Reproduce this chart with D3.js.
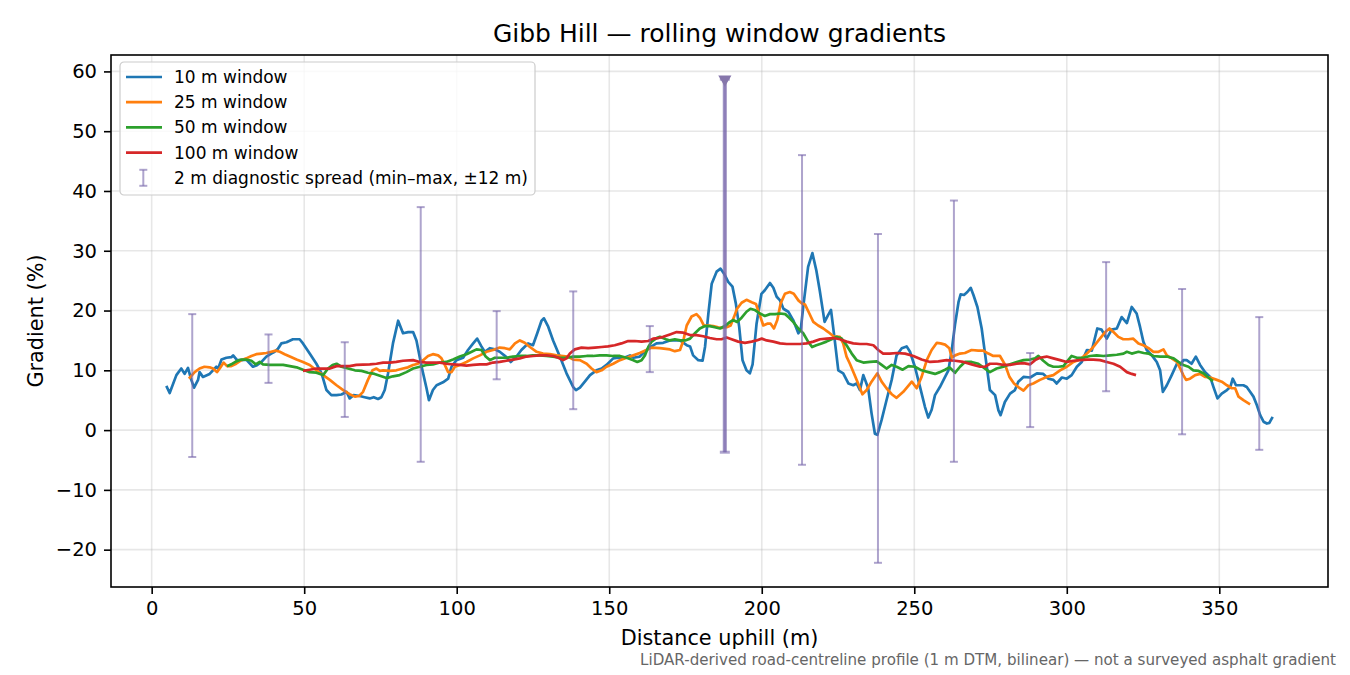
<!DOCTYPE html>
<html>

<head>
  <meta charset="utf-8">
  <script src="https://cdnjs.cloudflare.com/ajax/libs/d3/7.8.5/d3.min.js"></script>
  <style>
    body { margin: 0; background: #fff; }
    text { font-family: "DejaVu Sans", sans-serif; }
  </style>
</head>

<body>
  <script>
    // 10 m window
    var dist10 = [4.8, 5.9, 8.1, 9.7, 10.8, 11.9, 13.0, 13.9, 15.2, 15.7, 16.8, 19.0, 20.1, 21.2, 21.8, 22.9, 24.5, 26.1, 26.7, 28.0,
      29.5, 31.0, 33.2, 34.3, 36.0, 37.6, 39.2, 40.3, 41.4, 42.5, 44.2, 46.3, 48.5, 49.6, 51.8, 54.0, 55.7, 57.3, 58.9, 60.6,
      62.2, 63.9, 64.9, 66.2, 68.2, 69.8, 71.5, 72.8, 74.2, 75.3, 76.4, 77.5, 79.1, 80.8, 82.4, 84.1, 85.7, 86.8, 88.5, 90.1,
      90.9, 92.2, 93.4, 95.5, 97.2, 98.3, 99.9, 102.1, 103.7, 105.4, 106.7, 108.1, 109.2, 110.9, 112.5, 114.1, 116.1, 117.7, 119.6, 121.2,
      123.4, 125.0, 126.4, 127.8, 128.6, 130.0, 131.6, 133.8, 136.0, 138.2, 139.1, 140.4, 142.0, 143.7, 145.8, 147.5, 149.1, 151.3, 152.9, 154.5,
      156.8, 157.9, 160.0, 162.2, 163.9, 165.5, 167.7, 169.9, 173.2, 175.4, 176.5, 177.5, 179.2, 180.6, 181.4, 182.5, 183.6, 185.2, 186.5, 187.6,
      189.0, 190.4, 191.5, 192.6, 193.7, 195.0, 196.1, 197.0, 198.3, 199.9, 201.0, 202.7, 203.8, 204.9, 206.0, 207.1, 208.7, 210.3, 212.0, 212.8,
      213.6, 215.2, 216.6, 217.9, 219.0, 220.6, 221.7, 222.7, 223.8, 225.1, 226.7, 228.4, 230.0, 231.1, 232.2, 233.3, 234.9, 236.0, 237.1, 237.9,
      239.3, 240.9, 242.6, 244.2, 245.9, 247.5, 248.6, 250.2, 251.9, 253.5, 254.6, 255.7, 256.8, 258.4, 260.1, 261.2, 262.3, 263.4, 264.5, 265.2,
      266.3, 267.4, 268.5, 269.4, 270.7, 272.1, 273.2, 274.8, 276.5, 277.6, 278.3, 279.7, 281.4, 283.0, 284.1, 285.8, 288.0, 290.2, 292.3, 294.0,
      295.6, 296.7, 298.4, 300.0, 301.6, 303.3, 304.9, 306.6, 308.2, 310.0, 311.4, 313.1, 314.7, 316.4, 318.0, 319.7, 321.3, 322.9, 324.0, 325.1,
      326.2, 327.9, 329.5, 330.6, 331.5, 332.8, 334.4, 336.1, 337.2, 338.2, 339.3, 340.9, 342.3, 343.7, 345.3, 347.0, 348.1, 349.4, 350.8, 352.5,
      353.6, 354.4, 355.5, 356.8, 357.9, 359.0, 360.1, 361.2, 362.3, 363.4, 364.5, 365.6, 366.4, 367.5];
    var grad10 = [7.4, 6.2, 9.2, 10.3, 9.4, 10.4, 8.4, 7.1, 8.4, 9.7, 8.9, 9.4, 10.0, 10.6, 10.3, 11.8, 12.1, 12.2, 12.5, 11.7,
      11.7, 11.8, 10.6, 10.8, 11.4, 12.3, 12.8, 13.1, 13.6, 14.5, 14.7, 15.2, 15.2, 14.5, 12.8, 11.1, 9.5, 6.7, 5.85, 5.85,
      5.95, 6.4, 5.3, 5.85, 5.7, 5.5, 5.3, 5.5, 5.2, 5.5, 6.7, 9.5, 14.5, 18.3, 16.2, 16.4, 16.4, 15.0, 10.6, 7.0,
      5.0, 6.7, 7.5, 8.0, 8.6, 10.6, 11.7, 12.1, 13.4, 14.5, 15.3, 14.0, 13.1, 13.7, 13.5, 13.1, 12.3, 11.4, 12.3, 13.4,
      14.5, 14.2, 16.2, 18.3, 18.7, 17.3, 15.0, 12.3, 9.5, 7.2, 6.7, 7.1, 8.1, 9.2, 10.0, 10.3, 10.9, 12.0, 12.1, 12.0,
      12.5, 12.1, 12.3, 13.4, 14.0, 14.5, 14.6, 15.0, 15.0, 14.2, 14.0, 12.5, 11.7, 11.6, 13.9, 19.5, 24.5, 26.5, 27.0, 26.2,
      24.8, 24.0, 21.2, 17.3, 11.7, 10.0, 9.5, 11.0, 17.8, 22.8, 23.4, 24.6, 23.8, 22.3, 21.7, 20.3, 19.8, 18.4, 16.2, 16.9,
      20.6, 27.3, 29.6, 26.7, 23.4, 18.1, 19.2, 20.1, 15.6, 10.0, 9.5, 7.8, 7.5, 7.8, 6.7, 9.2, 7.0, 2.8, -0.6, -0.8,
      1.7, 5.0, 8.4, 12.5, 13.7, 14.0, 13.1, 10.6, 7.2, 3.9, 2.1, 3.4, 5.85, 7.2, 8.9, 10.0, 13.4, 17.8, 21.4, 22.7,
      22.6, 23.1, 23.8, 22.6, 20.6, 17.0, 12.8, 6.7, 5.85, 3.3, 2.5, 4.7, 6.1, 6.7, 8.1, 8.9, 8.8, 9.5, 9.4, 8.6,
      8.4, 7.8, 8.8, 8.6, 9.2, 10.6, 11.4, 13.4, 13.3, 17.0, 16.8, 15.3, 16.8, 17.0, 18.9, 17.9, 20.6, 19.5, 17.3, 14.8,
      13.4, 12.5, 11.4, 10.0, 6.4, 7.5, 9.2, 11.1, 10.9, 11.7, 11.7, 11.1, 12.3, 10.9, 9.7, 8.9, 7.2, 5.3, 6.1, 6.7,
      7.2, 8.6, 7.5, 7.5, 7.5, 7.2, 6.4, 5.6, 4.2, 2.5, 1.4, 1.1, 1.2, 2.2];

    // 25 m window
    var dist25 = [12.2, 14.1, 15.7, 17.3, 19.0, 20.1, 21.4, 22.3, 23.6, 24.7, 26.1, 27.7, 29.4, 31.0, 32.7, 34.3, 36.0, 37.6, 39.2, 40.7,
      42.0, 43.6, 45.3, 47.5, 49.6, 51.8, 54.0, 56.2, 58.4, 60.6, 62.8, 64.9, 66.6, 68.0, 69.3, 70.9, 72.4, 73.7, 74.8, 75.9,
      78.1, 80.2, 82.4, 84.0, 85.7, 87.3, 89.0, 90.6, 92.2, 93.9, 95.0, 96.1, 97.2, 98.3, 99.4, 101.0, 103.2, 105.4, 107.6, 109.8,
      111.9, 114.1, 115.8, 117.4, 119.1, 120.7, 122.3, 124.0, 126.2, 128.3, 130.5, 132.7, 134.9, 136.5, 138.2, 140.4, 142.6, 144.2, 145.8, 147.5,
      149.1, 151.3, 153.5, 155.7, 157.9, 160.0, 162.2, 163.9, 166.6, 169.9, 171.5, 173.2, 174.3, 175.4, 177.0, 178.6, 179.7, 181.0, 182.5, 184.1,
      185.7, 186.8, 188.5, 189.8, 190.9, 191.9, 193.4, 195.0, 196.7, 198.1, 199.4, 200.5, 201.8, 202.9, 204.0, 205.1, 206.2, 207.6, 209.2, 210.5,
      212.0, 213.1, 214.2, 215.6, 216.9, 218.5, 220.2, 221.8, 223.5, 225.6, 226.7, 227.8, 228.9, 230.2, 231.6, 233.0, 234.4, 236.0, 237.9, 239.3,
      240.9, 242.6, 244.2, 246.4, 249.2, 250.8, 252.4, 254.1, 255.7, 257.4, 258.6, 260.1, 261.5, 262.3, 263.4, 265.0, 266.6, 268.8, 271.0, 272.6,
      274.3, 275.9, 278.1, 279.8, 281.2, 282.7, 284.1, 285.8, 287.4, 289.0, 291.2, 293.4, 295.6, 297.8, 300.0, 302.2, 304.3, 306.6, 308.7, 310.4,
      312.6, 314.0, 315.3, 316.9, 318.5, 320.2, 321.8, 323.5, 325.1, 326.8, 328.4, 330.1, 331.7, 332.8, 334.4, 336.1, 337.2, 338.2, 339.1, 340.4,
      342.1, 343.7, 345.3, 347.0, 349.2, 350.8, 352.5, 354.1, 355.2, 356.3, 357.9, 360.1];
    var grad25 = [8.6, 9.7, 10.3, 10.6, 10.5, 10.3, 9.7, 10.3, 11.3, 10.7, 10.7, 11.1, 11.7, 12.0, 12.4, 12.7, 12.8, 12.9, 13.1, 13.3,
      13.1, 12.7, 12.3, 11.8, 11.4, 10.9, 10.0, 9.2, 8.4, 7.5, 6.7, 6.0, 5.6, 5.7, 6.4, 8.4, 10.0, 10.3, 9.9, 10.0,
      9.9, 10.0, 10.3, 10.5, 10.9, 11.1, 11.7, 12.4, 12.7, 12.5, 12.0, 10.9, 9.7, 9.7, 10.6, 10.9, 11.4, 12.0, 12.5, 13.1,
      13.4, 13.8, 13.7, 13.5, 14.5, 15.0, 14.6, 13.9, 13.1, 12.8, 12.7, 12.5, 12.4, 12.3, 11.8, 11.7, 11.1, 10.3, 9.7, 10.0,
      10.6, 11.1, 11.7, 12.1, 12.5, 12.9, 13.4, 13.8, 13.7, 13.5, 13.2, 13.4, 15.0, 17.5, 19.0, 19.4, 18.8, 17.5, 17.5, 17.4,
      17.2, 17.1, 17.2, 17.5, 18.9, 20.3, 21.3, 21.8, 21.4, 21.1, 19.2, 17.5, 17.8, 17.8, 17.0, 18.4, 21.2, 22.8, 23.1, 22.8,
      21.7, 21.2, 21.0, 19.5, 18.1, 17.5, 17.0, 16.4, 15.7, 15.6, 14.5, 12.3, 11.1, 9.5, 7.8, 6.0, 6.7, 8.1, 9.5, 8.1,
      7.0, 6.0, 5.4, 6.4, 8.1, 7.0, 8.9, 11.7, 13.4, 14.6, 14.5, 14.3, 13.7, 12.1, 12.5, 12.8, 12.9, 13.4, 13.3, 13.3,
      12.8, 12.4, 12.4, 10.9, 8.9, 7.8, 7.2, 6.6, 7.5, 7.8, 8.4, 8.9, 9.2, 10.0, 10.6, 11.4, 11.8, 12.8, 13.9, 15.0,
      16.4, 17.0, 16.4, 15.6, 15.2, 15.2, 15.3, 14.5, 14.2, 13.7, 13.1, 13.1, 13.5, 12.5, 12.0, 11.4, 10.3, 9.2, 8.4, 8.6,
      9.2, 9.4, 8.9, 8.8, 8.4, 8.1, 7.5, 7.0, 7.0, 5.6, 5.0, 4.3];

    // 50 m window
    var dist50 = [24.7, 26.1, 27.7, 29.4, 31.0, 32.7, 34.1, 35.4, 36.5, 38.7, 40.9, 43.1, 45.3, 47.5, 49.6, 51.8, 54.0, 56.2, 57.8, 59.3,
      60.6, 62.2, 64.4, 66.6, 68.8, 70.9, 73.1, 75.3, 77.0, 79.1, 81.3, 83.5, 85.7, 87.9, 90.1, 92.2, 94.5, 96.6, 98.8, 101.0,
      103.2, 104.9, 106.5, 108.1, 109.5, 110.9, 112.5, 114.1, 116.3, 118.5, 120.7, 122.9, 125.0, 127.2, 129.4, 131.6, 133.8, 136.0, 138.2, 140.4,
      142.6, 144.7, 146.9, 149.1, 151.3, 153.5, 155.7, 157.9, 159.2, 160.6, 161.7, 162.8, 163.9, 165.5, 166.6, 168.6, 169.9, 171.5, 173.2, 174.9,
      176.5, 178.1, 179.7, 181.4, 183.0, 184.6, 186.3, 187.9, 189.6, 190.6, 191.9, 193.4, 195.0, 196.3, 197.7, 199.4, 201.0, 202.7, 204.4, 206.0,
      207.7, 209.0, 210.3, 212.0, 213.6, 215.2, 216.5, 217.9, 219.6, 221.2, 222.9, 224.5, 226.2, 227.8, 229.5, 231.1, 233.3, 235.5, 237.7, 239.3,
      240.9, 242.6, 244.2, 246.2, 248.1, 250.2, 252.4, 254.6, 256.8, 258.4, 260.1, 261.5, 263.4, 265.0, 266.6, 268.8, 271.0, 273.2, 274.8, 277.0,
      279.2, 281.4, 283.6, 285.8, 288.0, 289.6, 290.7, 292.3, 294.0, 295.6, 297.3, 298.9, 300.0, 301.6, 303.3, 305.5, 307.6, 309.8, 312.0, 314.2,
      316.4, 318.6, 319.7, 321.3, 323.5, 325.2, 326.8, 328.4, 330.6, 332.8, 335.0, 336.6, 338.2, 339.9, 341.5, 343.2, 344.8, 346.4, 347.9];
    var grad50 = [10.7, 11.0, 11.5, 11.8, 11.8, 11.6, 11.0, 11.4, 11.0, 10.9, 10.9, 10.9, 10.7, 10.5, 10.1, 9.7, 9.6, 9.2, 10.3, 10.9,
      11.1, 10.6, 10.3, 10.0, 9.9, 9.6, 9.4, 9.0, 8.7, 9.0, 9.2, 9.7, 10.3, 10.6, 10.9, 11.0, 11.3, 11.4, 11.8, 12.3,
      12.7, 13.1, 13.5, 13.4, 12.3, 11.7, 12.1, 12.1, 12.1, 12.3, 12.4, 12.4, 12.5, 12.5, 12.4, 12.3, 12.1, 12.1, 12.3, 12.3,
      12.4, 12.4, 12.5, 12.5, 12.4, 12.4, 12.1, 11.7, 11.4, 11.7, 12.5, 13.9, 14.8, 15.4, 15.6, 15.2, 15.0, 15.2, 15.0, 15.0,
      15.3, 16.2, 17.0, 17.4, 17.4, 17.2, 17.0, 17.4, 18.1, 18.4, 18.1, 18.8, 19.8, 20.3, 20.1, 19.5, 19.1, 19.4, 19.4, 19.5,
      19.4, 18.8, 18.1, 17.0, 16.2, 14.8, 13.9, 14.2, 14.5, 14.8, 15.2, 15.6, 15.3, 14.2, 12.8, 11.7, 11.3, 11.4, 11.5, 10.9,
      10.3, 10.9, 10.6, 10.1, 10.7, 10.6, 10.0, 9.7, 9.4, 9.7, 10.1, 10.5, 9.6, 10.6, 11.4, 11.4, 11.1, 10.3, 9.7, 10.3,
      10.6, 11.0, 11.4, 11.7, 11.8, 12.0, 12.4, 11.6, 10.9, 10.6, 10.6, 10.7, 11.4, 12.4, 12.1, 12.1, 12.4, 12.5, 12.4, 12.5,
      12.6, 12.8, 13.1, 12.8, 13.1, 12.9, 12.8, 12.4, 12.3, 12.3, 12.0, 11.4, 10.9, 10.6, 10.0, 9.9, 9.5, 8.8, 8.2];

    // 100 m window
    var dist100 = [49.6, 51.8, 54.0, 58.4, 60.6, 64.9, 67.1, 71.5, 73.7, 75.9, 78.1, 80.2, 82.4, 85.7, 87.9, 90.1, 94.5, 96.6, 98.8, 101.0,
      103.2, 105.4, 107.6, 109.8, 111.9, 114.1, 116.3, 118.5, 120.7, 122.9, 125.0, 127.3, 129.4, 131.6, 133.3, 134.9, 136.0, 137.1, 138.7, 140.9,
      143.1, 145.3, 147.5, 149.6, 151.8, 154.0, 156.2, 158.4, 160.6, 162.8, 164.4, 166.1, 167.7, 169.9, 172.1, 174.3, 176.5, 178.6, 180.8, 183.0,
      185.2, 186.8, 188.5, 190.1, 192.3, 194.5, 196.7, 198.3, 200.0, 201.6, 203.8, 206.0, 208.2, 212.5, 214.7, 216.9, 219.1, 221.3, 223.5, 225.6,
      227.8, 230.0, 232.2, 234.4, 236.6, 238.2, 239.8, 242.0, 244.2, 247.0, 249.7, 252.4, 255.2, 257.9, 260.6, 263.4, 266.1, 268.8, 271.6, 273.2,
      274.8, 277.0, 279.2, 281.4, 283.6, 285.8, 288.0, 289.6, 291.2, 293.4, 295.6, 297.8, 300.0, 302.2, 304.3, 306.6, 308.7, 310.9, 313.1, 315.3,
      317.5, 319.7, 321.3, 322.7];
    var grad100 = [9.9, 10.1, 10.3, 10.3, 10.7, 10.7, 10.9, 11.0, 11.1, 11.3, 11.3, 11.4, 11.6, 11.7, 11.4, 11.3, 11.3, 11.1, 11.0, 10.9,
      10.8, 10.9, 11.0, 11.0, 11.3, 11.4, 11.6, 11.8, 12.0, 12.3, 12.4, 12.5, 12.5, 12.4, 12.1, 11.7, 12.0, 12.8, 13.5, 13.8,
      13.7, 13.8, 13.9, 14.0, 14.2, 14.5, 14.9, 14.9, 14.8, 14.9, 15.3, 15.4, 15.6, 16.0, 16.4, 16.3, 15.9, 15.9, 15.7, 15.4,
      15.2, 15.2, 15.5, 15.2, 14.8, 14.6, 14.8, 15.0, 15.3, 15.0, 14.8, 14.5, 14.4, 14.4, 14.5, 14.8, 15.2, 15.3, 15.4, 15.2,
      14.8, 14.5, 14.4, 14.4, 14.2, 13.4, 12.8, 12.8, 12.9, 12.8, 12.4, 11.8, 11.4, 11.5, 11.7, 11.6, 11.4, 11.0, 10.6, 10.6,
      11.1, 11.1, 10.9, 10.9, 11.1, 11.2, 11.0, 11.7, 12.1, 12.3, 12.0, 11.7, 11.4, 11.6, 11.7, 11.8, 11.8, 11.7, 11.4, 11.1,
      10.6, 9.7, 9.4, 9.2];

    // 2 m diagnostic spread, min and max inside +-12 m
    var spreadDist = [13.3, 38.3, 63.3, 88.2, 113.1, 138.2, 163.3, 187.9, 213.2, 238.1, 263.0, 288.0, 312.9, 337.8, 363.1];
    var spreadMin = [-4.5, 7.9, 2.2, -5.3, 8.5, 3.5, 9.7, -3.7, -5.8, -22.2, -5.3, 0.5, 6.5, -0.7, -3.3];
    var spreadMax = [19.4, 16.0, 14.7, 37.3, 19.9, 23.2, 17.4, 58.7, 46.0, 32.8, 38.4, 12.9, 28.1, 23.6, 18.9];
    var spreadFlag = [false, false, false, false, false, false, false, true, false, false, false, false, false, false, false];

    var seriesNames = ["10 m window", "25 m window", "50 m window", "100 m window"];
    var seriesColors = ["#1f77b4", "#ff7f0e", "#2ca02c", "#d62728"];
    var xTicks = [0, 50, 100, 150, 200, 250, 300, 350];
    var yTicks = [-20, -10, 0, 10, 20, 30, 40, 50, 60];

    var width = 1350,
      height = 675,
      plotLeft = 111,
      plotRight = 1328,
      plotTop = 55,
      plotBottom = 587;

    var series = [
      [dist10, grad10],
      [dist25, grad25],
      [dist50, grad50],
      [dist100, grad100]
    ].map(function(s, i) {
      return {
        name: seriesNames[i],
        color: seriesColors[i],
        points: s[0].map(function(d, j) {
          return { x: d, y: s[1][j] };
        })
      };
    });

    var spread = spreadDist.map(function(d, i) {
      return { x: d, lo: spreadMin[i], hi: spreadMax[i], flag: spreadFlag[i] };
    });

    // matplotlib style 5% margins
    var allX = dist10.concat(dist25, dist50, dist100, spreadDist),
      allY = grad10.concat(grad25, grad50, grad100, spreadMin, spreadMax);
    var xe = d3.extent(allX),
      ye = d3.extent(allY),
      xp = (xe[1] - xe[0]) * 0.05,
      yp = (ye[1] - ye[0]) * 0.05;

    var x = d3.scaleLinear().domain([xe[0] - xp, xe[1] + xp]).range([plotLeft, plotRight]);
    var y = d3.scaleLinear().domain([ye[0] - yp, ye[1] + yp]).range([plotBottom, plotTop]);

    var svg = d3.select("body")
      .append("svg")
      .attr("width", width)
      .attr("height", height);

    svg.append("rect")
      .attr("width", width)
      .attr("height", height)
      .attr("fill", "#fff");

    svg.append("defs").append("clipPath")
      .attr("id", "plot")
      .append("rect")
      .attr("x", plotLeft)
      .attr("y", plotTop)
      .attr("width", plotRight - plotLeft)
      .attr("height", plotBottom - plotTop);

    // grid
    var grid = svg.append("g");
    grid.selectAll("line.gx")
      .data(xTicks)
      .enter().append("line")
      .attr("x1", function(d) { return x(d); })
      .attr("x2", function(d) { return x(d); })
      .attr("y1", plotTop)
      .attr("y2", plotBottom)
      .attr("stroke", "#b0b0b0")
      .attr("stroke-opacity", 0.3)
      .attr("stroke-width", 1.6);
    grid.selectAll("line.gy")
      .data(yTicks)
      .enter().append("line")
      .attr("x1", plotLeft)
      .attr("x2", plotRight)
      .attr("y1", function(d) { return y(d); })
      .attr("y2", function(d) { return y(d); })
      .attr("stroke", "#b0b0b0")
      .attr("stroke-opacity", 0.3)
      .attr("stroke-width", 1.6);

    var plot = svg.append("g").attr("clip-path", "url(#plot)");

    var line = d3.line()
      .x(function(d) { return x(d.x); })
      .y(function(d) { return y(d.y); });

    plot.selectAll("path.series")
      .data(series)
      .enter().append("path")
      .attr("d", function(d) { return line(d.points); })
      .attr("fill", "none")
      .attr("stroke", function(d) { return d.color; })
      .attr("stroke-width", 2.7)
      .attr("stroke-linejoin", "round");

    // error bars
    var barColor = "rgba(120,104,172,0.6)";
    var bars = plot.selectAll("g.bar")
      .data(spread)
      .enter().append("g");
    bars.append("line")
      .attr("x1", function(d) { return x(d.x); })
      .attr("x2", function(d) { return x(d.x); })
      .attr("y1", function(d) { return y(d.lo); })
      .attr("y2", function(d) { return y(d.hi); })
      .attr("stroke", barColor)
      .attr("stroke-width", function(d) { return d.flag ? 4.2 : 2; });
    ["lo", "hi"].forEach(function(k) {
      bars.append("line")
        .attr("x1", function(d) { return x(d.x) - (d.flag ? 5 : 4); })
        .attr("x2", function(d) { return x(d.x) + (d.flag ? 5 : 4); })
        .attr("y1", function(d) { return y(d[k]); })
        .attr("y2", function(d) { return y(d[k]); })
        .attr("stroke", barColor)
        .attr("stroke-width", function(d) { return d.flag ? 3 : 2; });
    });
    // second pass on the flagged spread (drawn twice in the original)
    bars.filter(function(d) { return d.flag; })
      .append("line")
      .attr("x1", function(d) { return x(d.x); })
      .attr("x2", function(d) { return x(d.x); })
      .attr("y1", function(d) { return y(d.lo); })
      .attr("y2", function(d) { return y(d.hi); })
      .attr("stroke", barColor)
      .attr("stroke-width", 2.6);

    bars.filter(function(d) { return d.flag; })
      .append("path")
      .attr("d", d3.symbol().type(d3.symbolTriangle).size(75))
      .attr("transform", function(d) {
        return "translate(" + x(d.x) + "," + y(d.hi) + ") rotate(180)";
      })
      .attr("fill", "#8676ab");

    // axes frame
    svg.append("rect")
      .attr("x", plotLeft)
      .attr("y", plotTop)
      .attr("width", plotRight - plotLeft)
      .attr("height", plotBottom - plotTop)
      .attr("fill", "none")
      .attr("stroke", "#000")
      .attr("stroke-width", 1.6);

    var xAxis = svg.append("g")
      .attr("transform", "translate(0," + plotBottom + ")")
      .call(d3.axisBottom(x).tickValues(xTicks).tickSize(7).tickPadding(7).tickFormat(d3.format("d")));
    var yAxis = svg.append("g")
      .attr("transform", "translate(" + plotLeft + ",0)")
      .call(d3.axisLeft(y).tickValues(yTicks).tickSize(7).tickPadding(7)
        .tickFormat(function(d) { return d < 0 ? "\u2212" + Math.abs(d) : d; }));
    [xAxis, yAxis].forEach(function(a) {
      a.select(".domain").remove();
      a.selectAll(".tick line").attr("stroke", "#000").attr("stroke-width", 1.6);
      a.selectAll(".tick text")
        .attr("fill", "#000")
        .style("font-size", "19.5px")
        .style("font-family", "DejaVu Sans");
    });

    svg.append("text")
      .attr("x", (plotLeft + plotRight) / 2)
      .attr("y", 42)
      .attr("text-anchor", "middle")
      .style("font-size", "25px")
      .text("Gibb Hill \u2014 rolling window gradients");

    svg.append("text")
      .attr("x", (plotLeft + plotRight) / 2)
      .attr("y", 645)
      .attr("text-anchor", "middle")
      .style("font-size", "20.8px")
      .text("Distance uphill (m)");

    svg.append("text")
      .attr("transform", "translate(43," + (plotTop + plotBottom) / 2 + ") rotate(-90)")
      .attr("text-anchor", "middle")
      .style("font-size", "20.8px")
      .text("Gradient (%)");

    svg.append("text")
      .attr("x", 1336)
      .attr("y", 665)
      .attr("text-anchor", "end")
      .attr("fill", "#666")
      .style("font-size", "15.1px")
      .text("LiDAR-derived road-centreline profile (1 m DTM, bilinear) \u2014 not a surveyed asphalt gradient");

    // legend
    var legend = svg.append("g").attr("transform", "translate(120,62)");
    legend.append("rect")
      .attr("width", 415)
      .attr("height", 133)
      .attr("rx", 4)
      .attr("fill", "#fff")
      .attr("fill-opacity", 0.8)
      .attr("stroke", "#cccccc")
      .attr("stroke-width", 1.2);

    var items = legend.selectAll("g.item")
      .data(series)
      .enter().append("g")
      .attr("transform", function(d, i) { return "translate(0," + (15 + i * 25.2) + ")"; });
    items.append("line")
      .attr("x1", 6)
      .attr("x2", 42)
      .attr("stroke", function(d) { return d.color; })
      .attr("stroke-width", 2.7);
    items.append("text")
      .attr("x", 54)
      .attr("dy", "0.35em")
      .style("font-size", "17px")
      .text(function(d) { return d.name; });

    var eb = legend.append("g").attr("transform", "translate(0," + (15 + 4 * 25.2) + ")");
    eb.append("line").attr("x1", 23.3).attr("x2", 23.3).attr("y1", -8).attr("y2", 8)
      .attr("stroke", barColor).attr("stroke-width", 2);
    eb.append("line").attr("x1", 19.3).attr("x2", 27.3).attr("y1", -8).attr("y2", -8)
      .attr("stroke", barColor).attr("stroke-width", 2);
    eb.append("line").attr("x1", 19.3).attr("x2", 27.3).attr("y1", 8).attr("y2", 8)
      .attr("stroke", barColor).attr("stroke-width", 2);
    eb.append("text")
      .attr("x", 54)
      .attr("dy", "0.35em")
      .style("font-size", "17px")
      .text("2 m diagnostic spread (min\u2013max, \u00b112 m)");
  </script>
</body>

</html>
